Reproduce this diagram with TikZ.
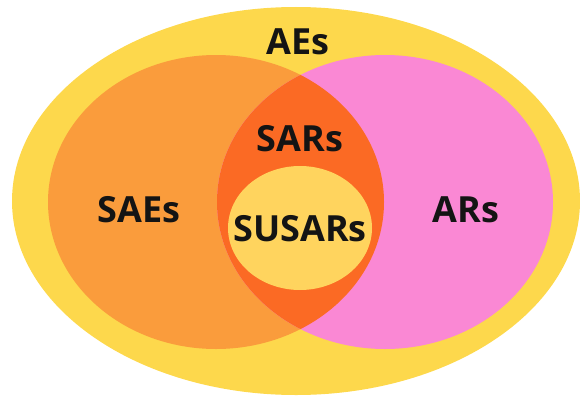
\documentclass[tikz,border=0pt]{standalone}
\usepackage{fontspec}
\setmainfont{Open Sans}
\usepackage{xcolor}
\usetikzlibrary{positioning}
\definecolor{vAll}{HTML}{FDD84C}
\definecolor{vSerious}{HTML}{FA9C3C}
\definecolor{vReact}{HTML}{FA88D4}
\definecolor{vBoth}{HTML}{FB6A24}
\definecolor{vUnexp}{HTML}{FFD45E}
\definecolor{vInk}{HTML}{141414}
\tikzset{
  setlbl/.style={font=\fontsize{36}{40}\selectfont\bfseries, text=vInk,
                 inner sep=0pt, anchor=center},
}

\begin{document}
\begin{tikzpicture}[x=1pt, y=1pt]
\useasboundingbox (0,0) rectangle (580,400);

% all adverse events
\fill[vAll] (296,199) ellipse [x radius=284, y radius=194];
% serious and related sets
\fill[vSerious] (216,198) ellipse [x radius=168, y radius=147];
\fill[vReact] (385,198) ellipse [x radius=168, y radius=147];
% overlap of the two
\begin{scope}
  \clip (216,198) ellipse [x radius=168, y radius=147];
  \fill[vBoth] (385,198) ellipse [x radius=168, y radius=147];
\end{scope}
\fill[vUnexp] (300,172) ellipse [x radius=72, y radius=62];

\node[setlbl] (ae) at (298,358) {AEs};
\node[setlbl] (sar) at (300,261) {SARs};
\node[setlbl] (sae) at (139,190) {SAEs};
\node[setlbl] (ar) at (466,190) {ARs};
\node[setlbl] (susar) at (300,171) {SUSARs};

\end{tikzpicture}
\end{document}
